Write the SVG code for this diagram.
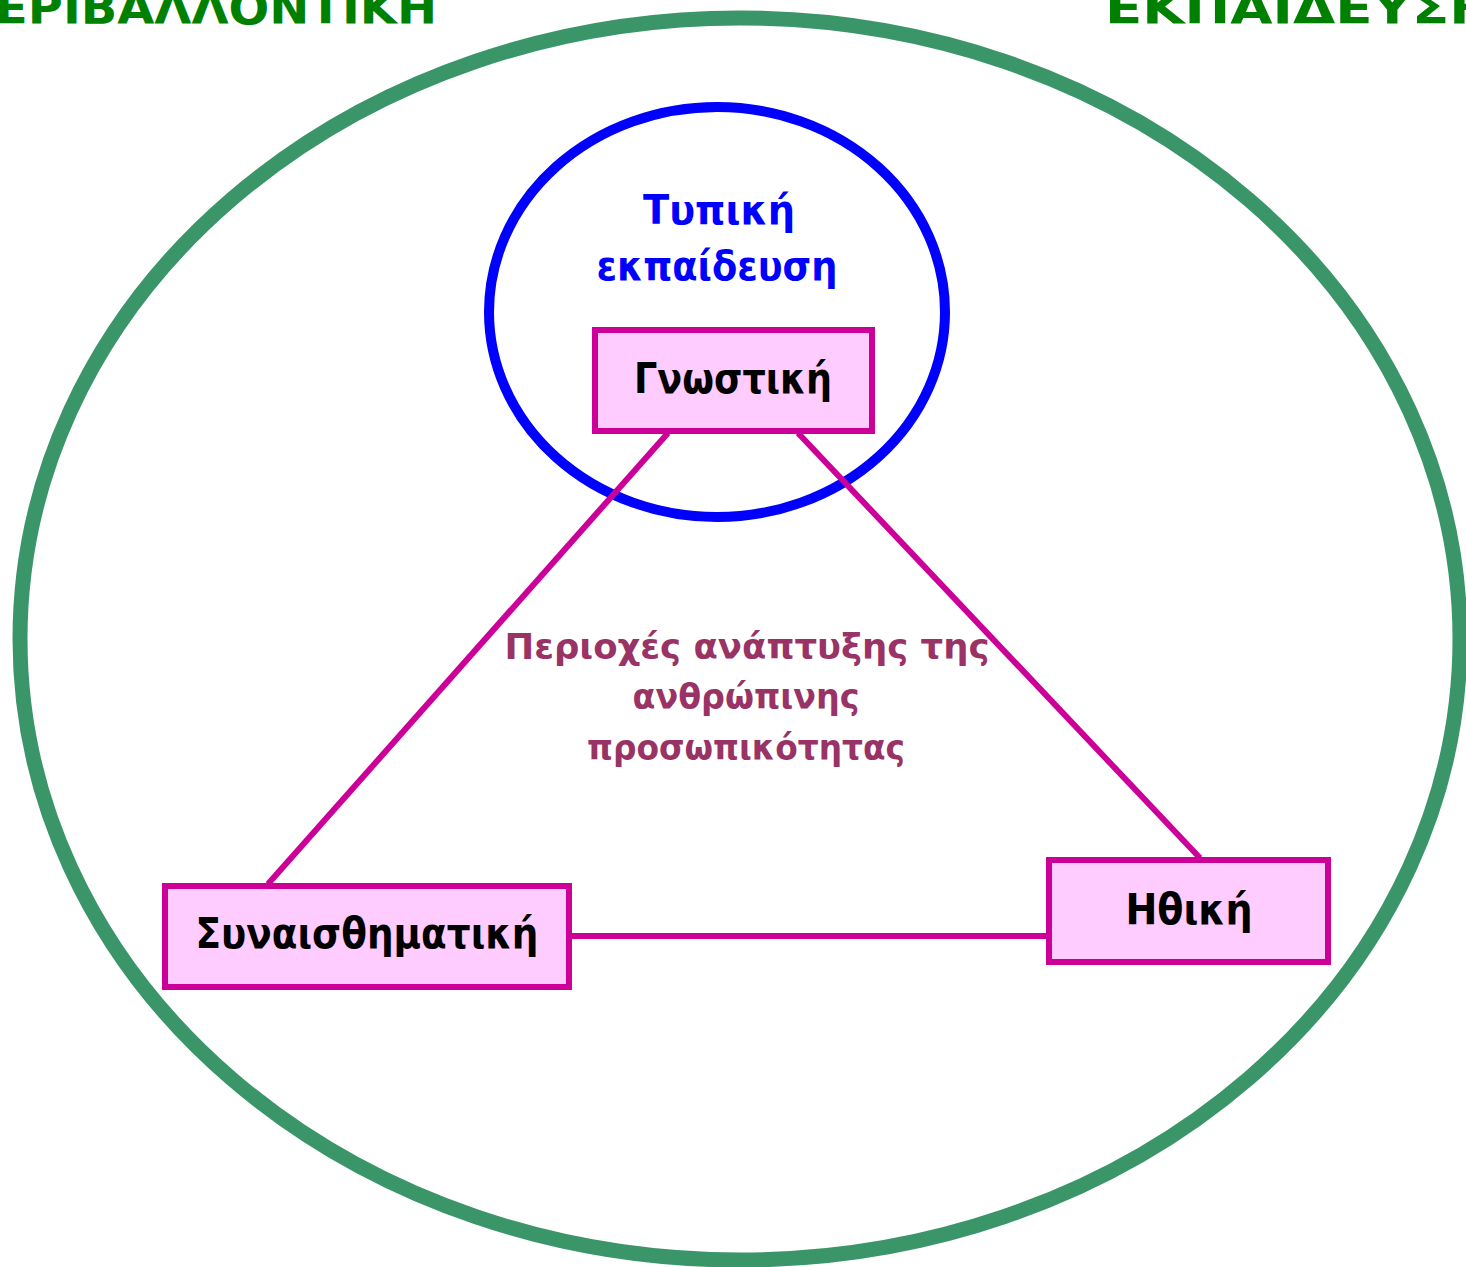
<svg xmlns="http://www.w3.org/2000/svg" width="1466" height="1267" viewBox="0 0 1466 1267">
<style>
text{font-family:"DejaVu Sans","Noto Sans",sans-serif;font-weight:bold;text-anchor:middle}
.top{fill:#008000;font-size:44px}
.box{fill:#ffccff;stroke:#cc0099;stroke-width:6}
.lbl{fill:#000;font-size:42px}
.blue{fill:#0000ff;font-size:40px}
.mid{fill:#993366;font-size:36px}
.con{stroke:#cc0099;stroke-width:6;fill:none}
</style>
<rect width="1466" height="1267" fill="#fff"/>
<g id="outer">
<ellipse cx="740" cy="639" rx="720" ry="621" fill="none" stroke="#3a9668" stroke-width="15"/>
<text class="top" x="437" y="24" style="text-anchor:end" textLength="482" lengthAdjust="spacingAndGlyphs">ΠΕΡΙΒΑΛΛΟΝΤΙΚΗ</text>
<text class="top" x="1105" y="24" style="text-anchor:start" textLength="390" lengthAdjust="spacingAndGlyphs">ΕΚΠΑΙΔΕΥΣΗ</text>
</g>
<g id="formal">
<ellipse cx="717" cy="312" rx="228" ry="205" fill="none" stroke="#0000ff" stroke-width="10"/>
<text class="blue" x="719" y="224" textLength="152" lengthAdjust="spacingAndGlyphs">Τυπική</text>
<text class="blue" x="717" y="280" textLength="241" lengthAdjust="spacingAndGlyphs">εκπαίδευση</text>
</g>
<g id="connectors">
<line class="con" x1="668" y1="433" x2="268" y2="884"/>
<line class="con" x1="798" y1="433" x2="1200" y2="858"/>
<line class="con" x1="569" y1="936" x2="1049" y2="936"/>
</g>
<g id="center-label">
<text class="mid" x="747" y="659" textLength="485" lengthAdjust="spacingAndGlyphs">Περιοχές ανάπτυξης της</text>
<text class="mid" x="746" y="709" textLength="227" lengthAdjust="spacingAndGlyphs">ανθρώπινης</text>
<text class="mid" x="746" y="760" textLength="318" lengthAdjust="spacingAndGlyphs">προσωπικότητας</text>
</g>
<g id="gnostiki">
<rect class="box" x="595" y="330" width="277" height="101"/>
<text class="lbl" x="733" y="393" textLength="198" lengthAdjust="spacingAndGlyphs">Γνωστική</text>
</g>
<g id="synaisthimatiki">
<rect class="box" x="165" y="886" width="404" height="101"/>
<text class="lbl" x="367" y="948" textLength="343" lengthAdjust="spacingAndGlyphs">Συναισθηματική</text>
</g>
<g id="ithiki">
<rect class="box" x="1049" y="860" width="279" height="102"/>
<text class="lbl" x="1189" y="924" textLength="127" lengthAdjust="spacingAndGlyphs">Ηθική</text>
</g>
</svg>
